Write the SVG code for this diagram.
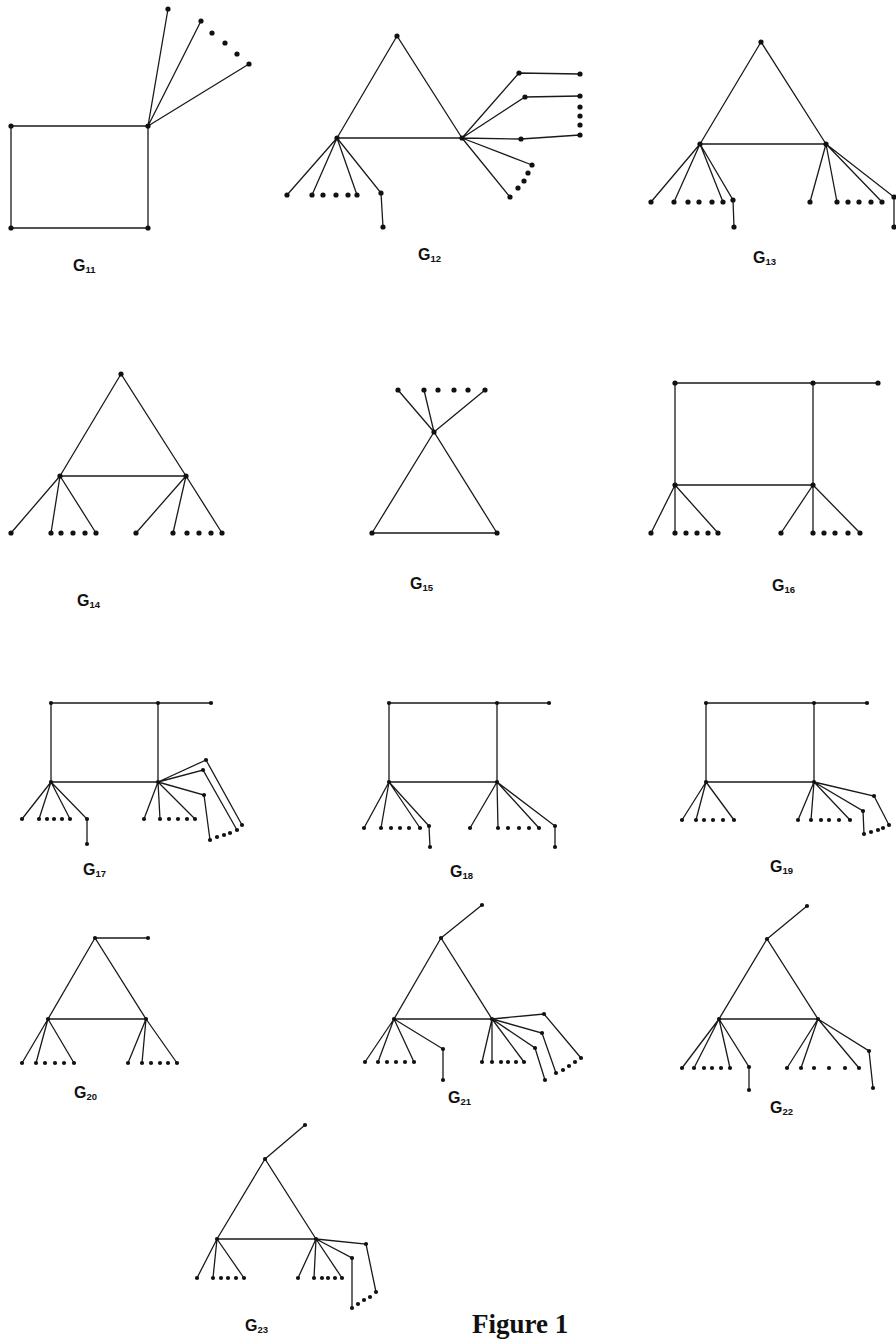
<svg xmlns="http://www.w3.org/2000/svg" width="896" height="1342" viewBox="0 0 896 1342">
<style>
.e{stroke:#1a1a1a;stroke-width:1.3;fill:none;stroke-linejoin:miter}
.n circle{fill:#111}
.big circle{r:2.6}
.sm circle{r:2.1}
.lab{font-family:"Liberation Sans",Arial,sans-serif;font-weight:bold;font-size:16px;fill:#111}
.sub{font-size:9.5px}
.fig{font-family:"Liberation Serif","Times New Roman",serif;font-weight:bold;font-size:27px;fill:#111}
</style>

<g id="G11">
<g class="e"><path d="M11,126H148V228H11Z M148,126L168,9 M148,126L201,21 M148,126L249,64"/></g>
<g class="n big"><circle cx="11" cy="126" r="2.6"/><circle cx="148" cy="126" r="2.6"/><circle cx="11" cy="228" r="2.6"/><circle cx="148" cy="228" r="2.6"/><circle cx="168" cy="9" r="2.6"/><circle cx="201" cy="21" r="2.6"/><circle cx="249" cy="64" r="2.6"/><circle cx="212" cy="33" r="2.6"/><circle cx="225" cy="43" r="2.6"/><circle cx="237" cy="54" r="2.6"/></g>
<text class="lab" x="73" y="271">G<tspan class="sub" dy="2">11</tspan></text>
</g>

<g id="G12">
<g class="e"><path d="M397,36L337,138H462Z M337,138L287,195 M337,138L312,195 M337,138L357,195 M337,138L381,193L383,227 M462,138L519,73L580,74 M462,138L525,97L580,96 M462,138L521,139L580,135 M462,138L532,165 M462,138L510,197"/></g>
<g class="n big"><circle cx="397" cy="36" r="2.6"/><circle cx="337" cy="138" r="2.6"/><circle cx="462" cy="138" r="2.6"/><circle cx="287" cy="195" r="2.6"/><circle cx="312" cy="195" r="2.6"/><circle cx="357" cy="195" r="2.6"/><circle cx="381" cy="193" r="2.6"/><circle cx="383" cy="227" r="2.6"/><circle cx="519" cy="73" r="2.6"/><circle cx="580" cy="74" r="2.6"/><circle cx="525" cy="97" r="2.6"/><circle cx="580" cy="96" r="2.6"/><circle cx="521" cy="139" r="2.6"/><circle cx="580" cy="135" r="2.6"/><circle cx="532" cy="165" r="2.6"/><circle cx="510" cy="197" r="2.6"/><circle cx="323" cy="195" r="2.6"/><circle cx="336" cy="195" r="2.6"/><circle cx="348" cy="195" r="2.6"/><circle cx="580" cy="107" r="2.6"/><circle cx="580" cy="116" r="2.6"/><circle cx="580" cy="125" r="2.6"/><circle cx="518" cy="188" r="2.6"/><circle cx="524" cy="181" r="2.6"/><circle cx="528" cy="173" r="2.6"/></g>
<text class="lab" x="418" y="260">G<tspan class="sub" dy="2">12</tspan></text>
</g>

<g id="G13">
<g class="e"><path d="M761,42L700,144H826Z M700,144L651,202 M700,144L674,202 M700,144L723,202 M700,144L733,200L734,227 M826,144L810,202 M826,144L837,202 M826,144L882,202 M826,144L894,197L894,227"/></g>
<g class="n big"><circle cx="761" cy="42" r="2.6"/><circle cx="700" cy="144" r="2.6"/><circle cx="826" cy="144" r="2.6"/><circle cx="651" cy="202" r="2.6"/><circle cx="674" cy="202" r="2.6"/><circle cx="723" cy="202" r="2.6"/><circle cx="733" cy="200" r="2.6"/><circle cx="734" cy="227" r="2.6"/><circle cx="810" cy="202" r="2.6"/><circle cx="837" cy="202" r="2.6"/><circle cx="882" cy="202" r="2.6"/><circle cx="894" cy="197" r="2.6"/><circle cx="894" cy="227" r="2.6"/><circle cx="688" cy="202" r="2.6"/><circle cx="699" cy="202" r="2.6"/><circle cx="712" cy="202" r="2.6"/><circle cx="848" cy="202" r="2.6"/><circle cx="859" cy="202" r="2.6"/><circle cx="871" cy="202" r="2.6"/></g>
<text class="lab" x="753" y="263">G<tspan class="sub" dy="2">13</tspan></text>
</g>

<g id="G14">
<g class="e"><path d="M121,374L60,476H186Z M60,476L11,533 M60,476L51,533 M60,476L96,533 M186,476L136,533 M186,476L173,533 M186,476L222,533"/></g>
<g class="n big"><circle cx="121" cy="374" r="2.6"/><circle cx="60" cy="476" r="2.6"/><circle cx="186" cy="476" r="2.6"/><circle cx="11" cy="533" r="2.6"/><circle cx="51" cy="533" r="2.6"/><circle cx="61" cy="533" r="2.6"/><circle cx="73" cy="533" r="2.6"/><circle cx="85" cy="533" r="2.6"/><circle cx="96" cy="533" r="2.6"/><circle cx="136" cy="533" r="2.6"/><circle cx="173" cy="533" r="2.6"/><circle cx="187" cy="533" r="2.6"/><circle cx="199" cy="533" r="2.6"/><circle cx="211" cy="533" r="2.6"/><circle cx="222" cy="533" r="2.6"/></g>
<text class="lab" x="77" y="606">G<tspan class="sub" dy="2">14</tspan></text>
</g>

<g id="G15">
<g class="e"><path d="M434,432L372,533H497Z M434,432L398,390 M434,432L424,390 M434,432L485,390"/></g>
<g class="n big"><circle cx="434" cy="432" r="2.6"/><circle cx="372" cy="533" r="2.6"/><circle cx="497" cy="533" r="2.6"/><circle cx="398" cy="390" r="2.6"/><circle cx="424" cy="390" r="2.6"/><circle cx="438" cy="390" r="2.6"/><circle cx="454" cy="390" r="2.6"/><circle cx="468" cy="390" r="2.6"/><circle cx="485" cy="390" r="2.6"/></g>
<text class="lab" x="410" y="589">G<tspan class="sub" dy="2">15</tspan></text>
</g>

<g id="G16">
<g class="e"><path d="M675,383H813V485H675Z M813,383H878 M675,485L651,533 M675,485V533 M675,485L718,533 M813,485L781,533 M813,485V533 M813,485L860,533"/></g>
<g class="n big"><circle cx="675" cy="383" r="2.6"/><circle cx="813" cy="383" r="2.6"/><circle cx="878" cy="383" r="2.6"/><circle cx="675" cy="485" r="2.6"/><circle cx="813" cy="485" r="2.6"/><circle cx="651" cy="533" r="2.6"/><circle cx="675" cy="533" r="2.6"/><circle cx="686" cy="533" r="2.6"/><circle cx="697" cy="533" r="2.6"/><circle cx="708" cy="533" r="2.6"/><circle cx="718" cy="533" r="2.6"/><circle cx="781" cy="533" r="2.6"/><circle cx="813" cy="533" r="2.6"/><circle cx="824" cy="533" r="2.6"/><circle cx="835" cy="533" r="2.6"/><circle cx="848" cy="533" r="2.6"/><circle cx="860" cy="533" r="2.6"/></g>
<text class="lab" x="772" y="591">G<tspan class="sub" dy="2">16</tspan></text>
</g>

<g id="G17">
<g class="e"><path d="M51,703H158V782H51Z M158,703H211 M51,782L22,819 M51,782L39,819 M51,782L70,819 M51,782L87,819V844 M158,782L144,819 M158,782L160,819 M158,782L195,819 M158,782L206,760L242,825 M158,782L203,770L237,830 M158,782L204,795L210,840"/></g>
<g class="n sm"><circle cx="51" cy="703" r="2.1"/><circle cx="158" cy="703" r="2.1"/><circle cx="211" cy="703" r="2.1"/><circle cx="51" cy="782" r="2.1"/><circle cx="158" cy="782" r="2.1"/><circle cx="22" cy="819" r="2.1"/><circle cx="39" cy="819" r="2.1"/><circle cx="47" cy="819" r="2.1"/><circle cx="54" cy="819" r="2.1"/><circle cx="62" cy="819" r="2.1"/><circle cx="70" cy="819" r="2.1"/><circle cx="87" cy="819" r="2.1"/><circle cx="87" cy="844" r="2.1"/><circle cx="144" cy="819" r="2.1"/><circle cx="160" cy="819" r="2.1"/><circle cx="169" cy="819" r="2.1"/><circle cx="178" cy="819" r="2.1"/><circle cx="187" cy="819" r="2.1"/><circle cx="195" cy="819" r="2.1"/><circle cx="206" cy="760" r="2.1"/><circle cx="203" cy="770" r="2.1"/><circle cx="204" cy="795" r="2.1"/><circle cx="242" cy="825" r="2.1"/><circle cx="237" cy="830" r="2.1"/><circle cx="210" cy="840" r="2.1"/><circle cx="217" cy="837" r="2.1"/><circle cx="224" cy="835" r="2.1"/><circle cx="230" cy="833" r="2.1"/></g>
<text class="lab" x="83" y="875">G<tspan class="sub" dy="2">17</tspan></text>
</g>

<g id="G18">
<g class="e"><path d="M389,703H497V782H389Z M497,703H549 M389,782L364,828 M389,782L381,828 M389,782L420,828 M389,782L429,826L430,847 M497,782L470,828 M497,782L498,828 M497,782L539,828 M497,782L555,826V847"/></g>
<g class="n sm"><circle cx="389" cy="703" r="2.1"/><circle cx="497" cy="703" r="2.1"/><circle cx="549" cy="703" r="2.1"/><circle cx="389" cy="782" r="2.1"/><circle cx="497" cy="782" r="2.1"/><circle cx="364" cy="828" r="2.1"/><circle cx="381" cy="828" r="2.1"/><circle cx="391" cy="828" r="2.1"/><circle cx="400" cy="828" r="2.1"/><circle cx="409" cy="828" r="2.1"/><circle cx="420" cy="828" r="2.1"/><circle cx="429" cy="826" r="2.1"/><circle cx="430" cy="847" r="2.1"/><circle cx="470" cy="828" r="2.1"/><circle cx="498" cy="828" r="2.1"/><circle cx="508" cy="828" r="2.1"/><circle cx="519" cy="828" r="2.1"/><circle cx="529" cy="828" r="2.1"/><circle cx="539" cy="828" r="2.1"/><circle cx="555" cy="826" r="2.1"/><circle cx="555" cy="847" r="2.1"/></g>
<text class="lab" x="450" y="877">G<tspan class="sub" dy="2">18</tspan></text>
</g>

<g id="G19">
<g class="e"><path d="M706,703H814V782H706Z M814,703H867 M706,782L682,820 M706,782L696,820 M706,782L734,820 M814,782L798,820 M814,782L811,820 M814,782L850,820 M814,782L863,811L864,834 M814,782L874,796L889,825"/></g>
<g class="n sm"><circle cx="706" cy="703" r="2.1"/><circle cx="814" cy="703" r="2.1"/><circle cx="867" cy="703" r="2.1"/><circle cx="706" cy="782" r="2.1"/><circle cx="814" cy="782" r="2.1"/><circle cx="682" cy="820" r="2.1"/><circle cx="696" cy="820" r="2.1"/><circle cx="704" cy="820" r="2.1"/><circle cx="713" cy="820" r="2.1"/><circle cx="723" cy="820" r="2.1"/><circle cx="734" cy="820" r="2.1"/><circle cx="798" cy="820" r="2.1"/><circle cx="811" cy="820" r="2.1"/><circle cx="821" cy="820" r="2.1"/><circle cx="829" cy="820" r="2.1"/><circle cx="839" cy="820" r="2.1"/><circle cx="850" cy="820" r="2.1"/><circle cx="863" cy="811" r="2.1"/><circle cx="864" cy="834" r="2.1"/><circle cx="874" cy="796" r="2.1"/><circle cx="889" cy="825" r="2.1"/><circle cx="871" cy="832" r="2.1"/><circle cx="878" cy="830" r="2.1"/><circle cx="883" cy="828" r="2.1"/></g>
<text class="lab" x="770" y="872">G<tspan class="sub" dy="2">19</tspan></text>
</g>

<g id="G20">
<g class="e"><path d="M95,938L48,1019H146Z M95,938H148 M48,1019L22,1063 M48,1019L36,1063 M48,1019L74,1063 M146,1019L128,1063 M146,1019L142,1063 M146,1019L177,1063"/></g>
<g class="n sm"><circle cx="95" cy="938" r="2.1"/><circle cx="148" cy="938" r="2.1"/><circle cx="48" cy="1019" r="2.1"/><circle cx="146" cy="1019" r="2.1"/><circle cx="22" cy="1063" r="2.1"/><circle cx="36" cy="1063" r="2.1"/><circle cx="45" cy="1063" r="2.1"/><circle cx="55" cy="1063" r="2.1"/><circle cx="64" cy="1063" r="2.1"/><circle cx="74" cy="1063" r="2.1"/><circle cx="128" cy="1063" r="2.1"/><circle cx="142" cy="1063" r="2.1"/><circle cx="151" cy="1063" r="2.1"/><circle cx="160" cy="1063" r="2.1"/><circle cx="168" cy="1063" r="2.1"/><circle cx="177" cy="1063" r="2.1"/></g>
<text class="lab" x="74" y="1098">G<tspan class="sub" dy="2">20</tspan></text>
</g>

<g id="G21">
<g class="e"><path d="M441,938L394,1019H492Z M441,938L482,905 M394,1019L365,1062 M394,1019L378,1062 M394,1019L414,1062 M394,1019L443,1049V1080 M492,1019L482,1062 M492,1019V1062 M492,1019L524,1062 M492,1019L544,1014L581,1058 M492,1019L542,1033L556,1073 M492,1019L535,1048L545,1080"/></g>
<g class="n sm"><circle cx="441" cy="938" r="2.1"/><circle cx="482" cy="905" r="2.1"/><circle cx="394" cy="1019" r="2.1"/><circle cx="492" cy="1019" r="2.1"/><circle cx="365" cy="1062" r="2.1"/><circle cx="378" cy="1062" r="2.1"/><circle cx="387" cy="1062" r="2.1"/><circle cx="396" cy="1062" r="2.1"/><circle cx="405" cy="1062" r="2.1"/><circle cx="414" cy="1062" r="2.1"/><circle cx="443" cy="1049" r="2.1"/><circle cx="443" cy="1080" r="2.1"/><circle cx="482" cy="1062" r="2.1"/><circle cx="492" cy="1062" r="2.1"/><circle cx="501" cy="1062" r="2.1"/><circle cx="508" cy="1062" r="2.1"/><circle cx="516" cy="1062" r="2.1"/><circle cx="524" cy="1062" r="2.1"/><circle cx="544" cy="1014" r="2.1"/><circle cx="542" cy="1033" r="2.1"/><circle cx="535" cy="1048" r="2.1"/><circle cx="581" cy="1058" r="2.1"/><circle cx="556" cy="1073" r="2.1"/><circle cx="545" cy="1080" r="2.1"/><circle cx="563" cy="1070" r="2.1"/><circle cx="569" cy="1066" r="2.1"/><circle cx="575" cy="1062" r="2.1"/></g>
<text class="lab" x="448" y="1103">G<tspan class="sub" dy="2">21</tspan></text>
</g>

<g id="G22">
<g class="e"><path d="M767,939L719,1019H818Z M767,939L807,906 M719,1019L682,1068 M719,1019L694,1068 M719,1019L730,1068 M719,1019L749,1067V1090 M818,1019L787,1068 M818,1019L801,1068 M818,1019L859,1068 M818,1019L869,1051L873,1088"/></g>
<g class="n sm"><circle cx="767" cy="939" r="2.1"/><circle cx="807" cy="906" r="2.1"/><circle cx="719" cy="1019" r="2.1"/><circle cx="818" cy="1019" r="2.1"/><circle cx="682" cy="1068" r="2.1"/><circle cx="694" cy="1068" r="2.1"/><circle cx="704" cy="1068" r="2.1"/><circle cx="712" cy="1068" r="2.1"/><circle cx="721" cy="1068" r="2.1"/><circle cx="730" cy="1068" r="2.1"/><circle cx="749" cy="1067" r="2.1"/><circle cx="749" cy="1090" r="2.1"/><circle cx="787" cy="1068" r="2.1"/><circle cx="801" cy="1068" r="2.1"/><circle cx="814" cy="1068" r="2.1"/><circle cx="829" cy="1068" r="2.1"/><circle cx="845" cy="1068" r="2.1"/><circle cx="859" cy="1068" r="2.1"/><circle cx="869" cy="1051" r="2.1"/><circle cx="873" cy="1088" r="2.1"/></g>
<text class="lab" x="770" y="1113">G<tspan class="sub" dy="2">22</tspan></text>
</g>

<g id="G23">
<g class="e"><path d="M265,1159L217,1239H316Z M265,1159L305,1125 M217,1239L197,1278 M217,1239L213,1278 M217,1239L244,1278 M316,1239L298,1278 M316,1239L314,1278 M316,1239L342,1278 M316,1239L366,1244L376,1292 M316,1239L352,1258V1308"/></g>
<g class="n sm"><circle cx="265" cy="1159" r="2.1"/><circle cx="305" cy="1125" r="2.1"/><circle cx="217" cy="1239" r="2.1"/><circle cx="316" cy="1239" r="2.1"/><circle cx="197" cy="1278" r="2.1"/><circle cx="213" cy="1278" r="2.1"/><circle cx="221" cy="1278" r="2.1"/><circle cx="228" cy="1278" r="2.1"/><circle cx="236" cy="1278" r="2.1"/><circle cx="244" cy="1278" r="2.1"/><circle cx="298" cy="1278" r="2.1"/><circle cx="314" cy="1278" r="2.1"/><circle cx="322" cy="1278" r="2.1"/><circle cx="328" cy="1278" r="2.1"/><circle cx="335" cy="1278" r="2.1"/><circle cx="342" cy="1278" r="2.1"/><circle cx="366" cy="1244" r="2.1"/><circle cx="376" cy="1292" r="2.1"/><circle cx="352" cy="1258" r="2.1"/><circle cx="352" cy="1308" r="2.1"/><circle cx="358" cy="1304" r="2.1"/><circle cx="364" cy="1300" r="2.1"/><circle cx="370" cy="1297" r="2.1"/></g>
<text class="lab" x="245" y="1331">G<tspan class="sub" dy="2">23</tspan></text>
</g>

<text class="fig" x="472" y="1333">Figure 1</text>
</svg>
